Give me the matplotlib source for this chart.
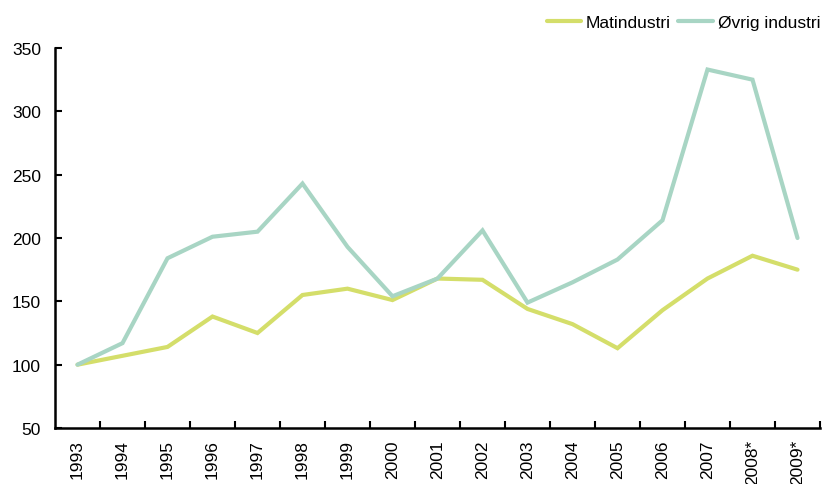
import matplotlib
matplotlib.use("Agg")
import matplotlib.pyplot as plt

years = ["1993", "1994", "1995", "1996", "1997", "1998", "1999", "2000", "2001",
         "2002", "2003", "2004", "2005", "2006", "2007", "2008*", "2009*"]
matindustri = [100, 107, 114, 138, 125, 155, 160, 151, 168, 167, 144, 132, 113, 143, 168, 186, 175]
ovrig = [100, 117, 184, 201, 205, 243, 193, 154, 168, 206, 149, 165, 183, 214, 333, 325, 200]
yticks = [50, 100, 150, 200, 250, 300, 350]

plt.rcParams['font.family'] = ['Liberation Sans', 'DejaVu Sans']
fs = 12.5

fig = plt.figure(figsize=(8.25, 4.85), dpi=100)
ax = fig.add_axes([55/825, 1 - 429/485, 765/825, 380/485])

x = list(range(len(years)))
ax.plot(x, matindustri, color='#d4de6a', lw=3.0, label='Matindustri', solid_capstyle='round', solid_joinstyle='miter')
ax.plot(x, ovrig, color='#a8d5c4', lw=3.0, label='Øvrig industri', solid_capstyle='round', solid_joinstyle='miter')

ax.set_xlim(-0.5, len(years) - 0.5)
ax.set_ylim(50, 350)
ax.set_yticks(yticks)
ax.set_yticklabels([str(v) for v in yticks], fontsize=fs)
ax.set_xticks([i + 0.5 for i in range(len(years))])
ax.set_xticklabels([])
ax.set_xticks(x, minor=True)
ax.set_xticklabels(years, minor=True, rotation=90, fontsize=fs)
ax.tick_params(axis='x', which='minor', length=0, pad=8)
ax.tick_params(axis='x', which='major', direction='in', length=5, width=1.5)
ax.tick_params(axis='y', direction='in', length=5, width=1.5, pad=10)

for s in ['top', 'right']:
    ax.spines[s].set_visible(False)
for s in ['left', 'bottom']:
    ax.spines[s].set_linewidth(1.8)
    ax.spines[s].set_color('black')

fig.legend(loc='upper right', bbox_to_anchor=(820/825, 1 - 16/485), ncol=2, frameon=False,
           fontsize=fs, handlelength=2.0, handletextpad=0.25, columnspacing=0.45,
           borderaxespad=0, borderpad=0)

fig.savefig('out.png', dpi=100)
